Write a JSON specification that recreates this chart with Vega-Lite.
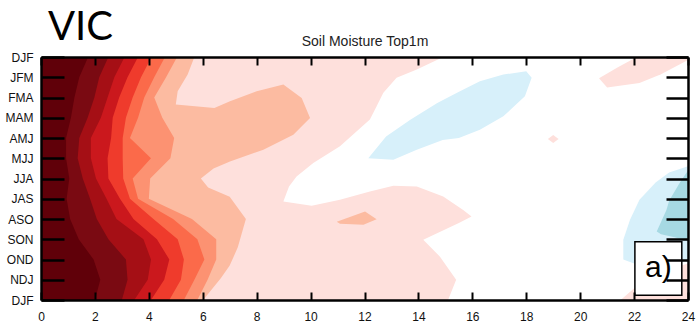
{
"$schema":"https://vega.github.io/schema/vega-lite/v6.json",
"width":647,"height":243,"autosize":"none",
"padding":{"left":41,"top":57,"right":9,"bottom":26},
"background":"white",
"config":{"view":{"stroke":null}},
"title":{"text":"VIC","anchor":"start","frame":"group","font":"Lato","fontSize":40,"fontWeight":"normal","color":"black","dx":7,"dy":14,"offset":0},
"data":{"values":[
{"shape":"bg","level":"0.1","i":0,"lead":0,"season":0},{"shape":"bg","level":"0.1","i":1,"lead":24,"season":0},{"shape":"bg","level":"0.1","i":2,"lead":24,"season":12},{"shape":"bg","level":"0.1","i":3,"lead":0,"season":12},
{"shape":"white","level":"0","i":0,"lead":14.92,"season":0},{"shape":"white","level":"0","i":1,"lead":24,"season":0},{"shape":"white","level":"0","i":2,"lead":24,"season":10.2},{"shape":"white","level":"0","i":3,"lead":23,"season":10.6},{"shape":"white","level":"0","i":4,"lead":22.2,"season":11.2},{"shape":"white","level":"0","i":5,"lead":21.5,"season":12},{"shape":"white","level":"0","i":6,"lead":15.1,"season":12},{"shape":"white","level":"0","i":7,"lead":15.4,"season":11},{"shape":"white","level":"0","i":8,"lead":14.8,"season":9.86},{"shape":"white","level":"0","i":9,"lead":14.18,"season":9.03},{"shape":"white","level":"0","i":10,"lead":15.5,"season":8.2},{"shape":"white","level":"0","i":11,"lead":15.97,"season":7.88},{"shape":"white","level":"0","i":12,"lead":15.66,"season":7.55},{"shape":"white","level":"0","i":13,"lead":14.92,"season":6.89},{"shape":"white","level":"0","i":14,"lead":13.94,"season":6.4},{"shape":"white","level":"0","i":15,"lead":13.07,"season":6.36},{"shape":"white","level":"0","i":16,"lead":12.2,"season":6.64},{"shape":"white","level":"0","i":17,"lead":11.09,"season":7.05},{"shape":"white","level":"0","i":18,"lead":10.04,"season":7.35},{"shape":"white","level":"0","i":19,"lead":8.99,"season":7.14},{"shape":"white","level":"0","i":20,"lead":9.2,"season":6.4},{"shape":"white","level":"0","i":21,"lead":9.48,"season":5.9},{"shape":"white","level":"0","i":22,"lead":10.1,"season":5.24},{"shape":"white","level":"0","i":23,"lead":11.09,"season":4.41},{"shape":"white","level":"0","i":24,"lead":12.2,"season":3.09},{"shape":"white","level":"0","i":25,"lead":12.45,"season":2.43},{"shape":"white","level":"0","i":26,"lead":12.7,"season":1.77},{"shape":"white","level":"0","i":27,"lead":13.19,"season":1.03},{"shape":"white","level":"0","i":28,"lead":13.94,"season":0.62},
{"shape":"blue_mid","level":"-0.1","i":0,"lead":12.14,"season":5.0},{"shape":"blue_mid","level":"-0.1","i":1,"lead":12.8,"season":3.92},{"shape":"blue_mid","level":"-0.1","i":2,"lead":13.7,"season":3.1},{"shape":"blue_mid","level":"-0.1","i":3,"lead":14.7,"season":2.27},{"shape":"blue_mid","level":"-0.1","i":4,"lead":15.45,"season":1.75},{"shape":"blue_mid","level":"-0.1","i":5,"lead":16.28,"season":1.2},{"shape":"blue_mid","level":"-0.1","i":6,"lead":17.15,"season":0.87},{"shape":"blue_mid","level":"-0.1","i":7,"lead":18.0,"season":0.7},{"shape":"blue_mid","level":"-0.1","i":8,"lead":18.2,"season":1.03},{"shape":"blue_mid","level":"-0.1","i":9,"lead":17.95,"season":1.94},{"shape":"blue_mid","level":"-0.1","i":10,"lead":17.15,"season":2.93},{"shape":"blue_mid","level":"-0.1","i":11,"lead":16.28,"season":3.59},{"shape":"blue_mid","level":"-0.1","i":12,"lead":15.5,"season":4.0},{"shape":"blue_mid","level":"-0.1","i":13,"lead":14.9,"season":4.1},{"shape":"blue_mid","level":"-0.1","i":14,"lead":13.94,"season":4.58},{"shape":"blue_mid","level":"-0.1","i":15,"lead":13.07,"season":5.07},
{"shape":"blue_right","level":"-0.1","i":0,"lead":24,"season":5.4},{"shape":"blue_right","level":"-0.1","i":1,"lead":23.3,"season":5.7},{"shape":"blue_right","level":"-0.1","i":2,"lead":22.8,"season":6.2},{"shape":"blue_right","level":"-0.1","i":3,"lead":22.2,"season":7.05},{"shape":"blue_right","level":"-0.1","i":4,"lead":21.85,"season":8.04},{"shape":"blue_right","level":"-0.1","i":5,"lead":21.6,"season":9.03},{"shape":"blue_right","level":"-0.1","i":6,"lead":21.6,"season":10.0},{"shape":"blue_right","level":"-0.1","i":7,"lead":22.2,"season":10.3},{"shape":"blue_right","level":"-0.1","i":8,"lead":24,"season":10.1},
{"shape":"teal","level":"-0.2","i":0,"lead":24,"season":5.6},{"shape":"teal","level":"-0.2","i":1,"lead":23.7,"season":6.2},{"shape":"teal","level":"-0.2","i":2,"lead":23.3,"season":7.1},{"shape":"teal","level":"-0.2","i":3,"lead":23.2,"season":7.55},{"shape":"teal","level":"-0.2","i":4,"lead":22.84,"season":8.62},{"shape":"teal","level":"-0.2","i":5,"lead":23.0,"season":8.75},{"shape":"teal","level":"-0.2","i":6,"lead":23.5,"season":8.9},{"shape":"teal","level":"-0.2","i":7,"lead":24,"season":9.1},
{"shape":"pink_tr","level":"0.1","i":0,"lead":22.1,"season":0},{"shape":"pink_tr","level":"0.1","i":1,"lead":24,"season":0},{"shape":"pink_tr","level":"0.1","i":2,"lead":24,"season":0.15},{"shape":"pink_tr","level":"0.1","i":3,"lead":23.0,"season":0.85},{"shape":"pink_tr","level":"0.1","i":4,"lead":22.2,"season":1.28},{"shape":"pink_tr","level":"0.1","i":5,"lead":21.0,"season":1.5},{"shape":"pink_tr","level":"0.1","i":6,"lead":20.7,"season":1.05},{"shape":"pink_tr","level":"0.1","i":7,"lead":21.4,"season":0.5},
{"shape":"pink_dot","level":"0.1","i":0,"lead":18.8,"season":4.05},{"shape":"pink_dot","level":"0.1","i":1,"lead":19.0,"season":3.85},{"shape":"pink_dot","level":"0.1","i":2,"lead":19.2,"season":4.05},{"shape":"pink_dot","level":"0.1","i":3,"lead":19.0,"season":4.25},
{"shape":"L8","level":"0.2","i":0,"lead":0,"season":0},{"shape":"L8","level":"0.2","i":1,"lead":5.69,"season":0},{"shape":"L8","level":"0.2","i":2,"lead":5.44,"season":0.87},{"shape":"L8","level":"0.2","i":3,"lead":5.07,"season":1.69},{"shape":"L8","level":"0.2","i":4,"lead":5.0,"season":2.35},{"shape":"L8","level":"0.2","i":5,"lead":6.43,"season":2.52},{"shape":"L8","level":"0.2","i":6,"lead":7.01,"season":2.19},{"shape":"L8","level":"0.2","i":7,"lead":8.0,"season":1.69},{"shape":"L8","level":"0.2","i":8,"lead":8.99,"season":1.36},{"shape":"L8","level":"0.2","i":9,"lead":9.67,"season":2.02},{"shape":"L8","level":"0.2","i":10,"lead":9.98,"season":3.01},{"shape":"L8","level":"0.2","i":11,"lead":9.36,"season":3.84},{"shape":"L8","level":"0.2","i":12,"lead":8.25,"season":4.58},{"shape":"L8","level":"0.2","i":13,"lead":7.01,"season":5.16},{"shape":"L8","level":"0.2","i":14,"lead":6.4,"season":5.5},{"shape":"L8","level":"0.2","i":15,"lead":5.93,"season":6.0},{"shape":"L8","level":"0.2","i":16,"lead":6.2,"season":6.45},{"shape":"L8","level":"0.2","i":17,"lead":7.0,"season":6.9},{"shape":"L8","level":"0.2","i":18,"lead":7.6,"season":8.0},{"shape":"L8","level":"0.2","i":19,"lead":7.3,"season":9.4},{"shape":"L8","level":"0.2","i":20,"lead":7.0,"season":10.3},{"shape":"L8","level":"0.2","i":21,"lead":6.67,"season":10.93},{"shape":"L8","level":"0.2","i":22,"lead":6.06,"season":11.92},{"shape":"L8","level":"0.2","i":23,"lead":6.0,"season":12},{"shape":"L8","level":"0.2","i":24,"lead":0,"season":12},
{"shape":"L8_dot","level":"0.2","i":0,"lead":10.97,"season":8.13},{"shape":"L8_dot","level":"0.2","i":1,"lead":12.02,"season":7.63},{"shape":"L8_dot","level":"0.2","i":2,"lead":12.45,"season":8.01},{"shape":"L8_dot","level":"0.2","i":3,"lead":11.96,"season":8.29},{"shape":"L8_dot","level":"0.2","i":4,"lead":11.09,"season":8.24},
{"shape":"L7","level":"0.3","i":0,"lead":0,"season":0},{"shape":"L7","level":"0.3","i":1,"lead":5.05,"season":0},{"shape":"L7","level":"0.3","i":2,"lead":4.64,"season":1},{"shape":"L7","level":"0.3","i":3,"lead":4.2,"season":2},{"shape":"L7","level":"0.3","i":4,"lead":4.5,"season":3},{"shape":"L7","level":"0.3","i":5,"lead":4.94,"season":4},{"shape":"L7","level":"0.3","i":6,"lead":4.8,"season":5},{"shape":"L7","level":"0.3","i":7,"lead":4.05,"season":6},{"shape":"L7","level":"0.3","i":8,"lead":4.0,"season":7},{"shape":"L7","level":"0.3","i":9,"lead":5.6,"season":8},{"shape":"L7","level":"0.3","i":10,"lead":6.5,"season":9},{"shape":"L7","level":"0.3","i":11,"lead":6.5,"season":10},{"shape":"L7","level":"0.3","i":12,"lead":6.18,"season":11},{"shape":"L7","level":"0.3","i":13,"lead":5.8,"season":12},{"shape":"L7","level":"0.3","i":14,"lead":0,"season":12},
{"shape":"L6","level":"0.4","i":0,"lead":0,"season":0},{"shape":"L6","level":"0.4","i":1,"lead":4.6,"season":0},{"shape":"L6","level":"0.4","i":2,"lead":4.2,"season":1},{"shape":"L6","level":"0.4","i":3,"lead":3.83,"season":2},{"shape":"L6","level":"0.4","i":4,"lead":3.6,"season":3},{"shape":"L6","level":"0.4","i":5,"lead":3.3,"season":4},{"shape":"L6","level":"0.4","i":6,"lead":4.08,"season":5},{"shape":"L6","level":"0.4","i":7,"lead":3.4,"season":6},{"shape":"L6","level":"0.4","i":8,"lead":3.6,"season":7},{"shape":"L6","level":"0.4","i":9,"lead":4.9,"season":8},{"shape":"L6","level":"0.4","i":10,"lead":5.8,"season":9},{"shape":"L6","level":"0.4","i":11,"lead":6.06,"season":10},{"shape":"L6","level":"0.4","i":12,"lead":5.69,"season":11},{"shape":"L6","level":"0.4","i":13,"lead":5.3,"season":12},{"shape":"L6","level":"0.4","i":14,"lead":0,"season":12},
{"shape":"L5","level":"0.5","i":0,"lead":0,"season":0},{"shape":"L5","level":"0.5","i":1,"lead":4.1,"season":0},{"shape":"L5","level":"0.5","i":2,"lead":3.71,"season":1},{"shape":"L5","level":"0.5","i":3,"lead":3.4,"season":2},{"shape":"L5","level":"0.5","i":4,"lead":3.15,"season":3},{"shape":"L5","level":"0.5","i":5,"lead":3.03,"season":4},{"shape":"L5","level":"0.5","i":6,"lead":3.03,"season":5},{"shape":"L5","level":"0.5","i":7,"lead":3.05,"season":6},{"shape":"L5","level":"0.5","i":8,"lead":3.3,"season":7},{"shape":"L5","level":"0.5","i":9,"lead":4.17,"season":8},{"shape":"L5","level":"0.5","i":10,"lead":5.07,"season":9},{"shape":"L5","level":"0.5","i":11,"lead":5.3,"season":10},{"shape":"L5","level":"0.5","i":12,"lead":5.19,"season":11},{"shape":"L5","level":"0.5","i":13,"lead":4.76,"season":12},{"shape":"L5","level":"0.5","i":14,"lead":0,"season":12},
{"shape":"L4","level":"0.6","i":0,"lead":0,"season":0},{"shape":"L4","level":"0.6","i":1,"lead":3.6,"season":0},{"shape":"L4","level":"0.6","i":2,"lead":3.21,"season":1},{"shape":"L4","level":"0.6","i":3,"lead":2.9,"season":2},{"shape":"L4","level":"0.6","i":4,"lead":2.66,"season":3},{"shape":"L4","level":"0.6","i":5,"lead":2.6,"season":4},{"shape":"L4","level":"0.6","i":6,"lead":2.47,"season":5},{"shape":"L4","level":"0.6","i":7,"lead":2.5,"season":6},{"shape":"L4","level":"0.6","i":8,"lead":2.93,"season":7},{"shape":"L4","level":"0.6","i":9,"lead":3.43,"season":8},{"shape":"L4","level":"0.6","i":10,"lead":4.3,"season":9},{"shape":"L4","level":"0.6","i":11,"lead":4.76,"season":10},{"shape":"L4","level":"0.6","i":12,"lead":4.57,"season":11},{"shape":"L4","level":"0.6","i":13,"lead":4.08,"season":12},{"shape":"L4","level":"0.6","i":14,"lead":0,"season":12},
{"shape":"L3","level":"0.7","i":0,"lead":0,"season":0},{"shape":"L3","level":"0.7","i":1,"lead":3.1,"season":0},{"shape":"L3","level":"0.7","i":2,"lead":2.72,"season":1},{"shape":"L3","level":"0.7","i":3,"lead":2.47,"season":2},{"shape":"L3","level":"0.7","i":4,"lead":2.22,"season":3},{"shape":"L3","level":"0.7","i":5,"lead":1.85,"season":4},{"shape":"L3","level":"0.7","i":6,"lead":1.85,"season":5},{"shape":"L3","level":"0.7","i":7,"lead":2.04,"season":6},{"shape":"L3","level":"0.7","i":8,"lead":2.43,"season":7},{"shape":"L3","level":"0.7","i":9,"lead":2.8,"season":8},{"shape":"L3","level":"0.7","i":10,"lead":3.8,"season":9},{"shape":"L3","level":"0.7","i":11,"lead":4.08,"season":10},{"shape":"L3","level":"0.7","i":12,"lead":3.96,"season":11},{"shape":"L3","level":"0.7","i":13,"lead":3.46,"season":12},{"shape":"L3","level":"0.7","i":14,"lead":0,"season":12},
{"shape":"L2","level":"0.8","i":0,"lead":0,"season":0},{"shape":"L2","level":"0.8","i":1,"lead":2.5,"season":0},{"shape":"L2","level":"0.8","i":2,"lead":2.16,"season":1},{"shape":"L2","level":"0.8","i":3,"lead":1.98,"season":2},{"shape":"L2","level":"0.8","i":4,"lead":1.73,"season":3},{"shape":"L2","level":"0.8","i":5,"lead":1.42,"season":4},{"shape":"L2","level":"0.8","i":6,"lead":1.36,"season":5},{"shape":"L2","level":"0.8","i":7,"lead":1.55,"season":6},{"shape":"L2","level":"0.8","i":8,"lead":1.82,"season":7},{"shape":"L2","level":"0.8","i":9,"lead":2.07,"season":8},{"shape":"L2","level":"0.8","i":10,"lead":2.5,"season":9},{"shape":"L2","level":"0.8","i":11,"lead":3.15,"season":10},{"shape":"L2","level":"0.8","i":12,"lead":3.21,"season":11},{"shape":"L2","level":"0.8","i":13,"lead":3.0,"season":12},{"shape":"L2","level":"0.8","i":14,"lead":0,"season":12},
{"shape":"L1","level":"0.9","i":0,"lead":0,"season":0},{"shape":"L1","level":"0.9","i":1,"lead":1.75,"season":0},{"shape":"L1","level":"0.9","i":2,"lead":1.42,"season":1},{"shape":"L1","level":"0.9","i":3,"lead":1.24,"season":2},{"shape":"L1","level":"0.9","i":4,"lead":1.11,"season":3},{"shape":"L1","level":"0.9","i":5,"lead":0.93,"season":4},{"shape":"L1","level":"0.9","i":6,"lead":0.93,"season":5},{"shape":"L1","level":"0.9","i":7,"lead":1.05,"season":6},{"shape":"L1","level":"0.9","i":8,"lead":0.95,"season":7},{"shape":"L1","level":"0.9","i":9,"lead":1.08,"season":8},{"shape":"L1","level":"0.9","i":10,"lead":1.4,"season":9},{"shape":"L1","level":"0.9","i":11,"lead":1.95,"season":10},{"shape":"L1","level":"0.9","i":12,"lead":2.2,"season":11},{"shape":"L1","level":"0.9","i":13,"lead":2.0,"season":12},{"shape":"L1","level":"0.9","i":14,"lead":0,"season":12}
]},
"layer":[
{"transform":[{"filter":{"field":"shape","equal":"bg"}}],
 "mark":{"type":"line","filled":true,"strokeWidth":0},
 "encoding":{
  "x":{"field":"lead","type":"quantitative","scale":{"domain":[0,24],"nice":false,"zero":false},
   "axis":{"orient":"top","values":[0,2,4,6,8,10,12,14,16,18,20,22,24],"labels":false,"tickSize":-8,"tickWidth":2,"tickColor":"black","domainColor":"black","domainWidth":2.5,"grid":false,"title":"Soil Moisture Top1m","titleFont":"Liberation Sans","titleFontSize":14,"titleFontWeight":"normal","titleColor":"#222","titlePadding":8,"zindex":1}},
  "y":{"field":"season","type":"quantitative","scale":{"domain":[0,12],"reverse":true,"nice":false,"zero":false},
   "axis":{"orient":"right","values":[0,1,2,3,4,5,6,7,8,9,10,11,12],"labels":false,"tickSize":-22,"tickWidth":2.5,"tickColor":"black","domainColor":"black","domainWidth":2.5,"grid":false,"title":null,"zindex":1}},
  "order":{"field":"i","type":"quantitative"},
  "detail":{"field":"shape","type":"nominal"},
  "color":{"field":"level","type":"nominal","legend":null,"scale":{"domain":["-0.2","-0.1","0","0.1","0.2","0.3","0.4","0.5","0.6","0.7","0.8","0.9"],"range":["#a6d9e3","#d7f0fa","#ffffff","#fee0dc","#fcbba1","#fc9272","#fb6a4a","#ef3b2c","#cb181d","#a50f15","#7a0a12","#600009"]}}
 }},
{"encoding":{
  "x":{"field":"lead","type":"quantitative","scale":{"domain":[0,24],"nice":false,"zero":false},
   "axis":{"orient":"bottom","values":[0,2,4,6,8,10,12,14,16,18,20,22,24],"tickSize":-8,"tickWidth":2,"tickColor":"black","domainColor":"black","domainWidth":2.5,"grid":false,"title":null,"labelFont":"Liberation Sans","labelFontSize":12,"labelColor":"#111","labelPadding":19,"labelFlush":false,"labelOverlap":false,"zindex":1}},
  "y":{"field":"season","type":"quantitative","scale":{"domain":[0,12],"reverse":true,"nice":false,"zero":false},
   "axis":{"orient":"left","values":[0,1,2,3,4,5,6,7,8,9,10,11,12],"labelExpr":"['DJF','JFM','FMA','MAM','AMJ','MJJ','JJA','JAS','ASO','SON','OND','NDJ','DJF'][datum.value]","tickSize":-23,"tickWidth":2.5,"tickColor":"black","domainColor":"black","domainWidth":2.5,"grid":false,"title":null,"labelFont":"Liberation Sans","labelFontSize":12,"labelColor":"#111","labelPadding":31,"labelOverlap":false,"zindex":1}},
  "order":{"field":"i","type":"quantitative"},
  "detail":{"field":"shape","type":"nominal"},
  "color":{"field":"level","type":"nominal","legend":null}
 },
 "layer":[
  {"transform":[{"filter":{"field":"shape","equal":"white"}}],"mark":{"type":"line","filled":true,"strokeWidth":0}},
  {"transform":[{"filter":{"field":"shape","oneOf":["blue_mid","blue_right"]}}],"mark":{"type":"line","filled":true,"strokeWidth":0}},
  {"transform":[{"filter":{"field":"shape","equal":"teal"}}],"mark":{"type":"line","filled":true,"strokeWidth":0}},
  {"transform":[{"filter":{"field":"shape","oneOf":["pink_tr","pink_dot"]}}],"mark":{"type":"line","filled":true,"strokeWidth":0}},
  {"transform":[{"filter":{"field":"shape","oneOf":["L8","L8_dot"]}}],"mark":{"type":"line","filled":true,"strokeWidth":0}},
  {"transform":[{"filter":{"field":"shape","equal":"L7"}}],"mark":{"type":"line","filled":true,"strokeWidth":0}},
  {"transform":[{"filter":{"field":"shape","equal":"L6"}}],"mark":{"type":"line","filled":true,"strokeWidth":0}},
  {"transform":[{"filter":{"field":"shape","equal":"L5"}}],"mark":{"type":"line","filled":true,"strokeWidth":0}},
  {"transform":[{"filter":{"field":"shape","equal":"L4"}}],"mark":{"type":"line","filled":true,"strokeWidth":0}},
  {"transform":[{"filter":{"field":"shape","equal":"L3"}}],"mark":{"type":"line","filled":true,"strokeWidth":0}},
  {"transform":[{"filter":{"field":"shape","equal":"L2"}}],"mark":{"type":"line","filled":true,"strokeWidth":0}},
  {"transform":[{"filter":{"field":"shape","equal":"L1"}}],"mark":{"type":"line","filled":true,"strokeWidth":0}}
 ]},
{"data":{"values":[{}]},
 "mark":{"type":"rect","fill":"white","stroke":"black","strokeWidth":1.5},
 "encoding":{"x":{"datum":22.03,"type":"quantitative","axis":null},"x2":{"datum":23.77},"y":{"datum":9.12,"type":"quantitative","axis":null},"y2":{"datum":11.76}}},
{"data":{"values":[{}]},
 "mark":{"type":"text","text":"a)","font":"Liberation Sans","fontSize":30,"align":"center","baseline":"middle","color":"black"},
 "encoding":{"x":{"datum":22.9,"type":"quantitative","axis":null},"y":{"datum":10.44,"type":"quantitative","axis":null}}}
],
"resolve":{"axis":{"x":"independent","y":"independent"}}
}
